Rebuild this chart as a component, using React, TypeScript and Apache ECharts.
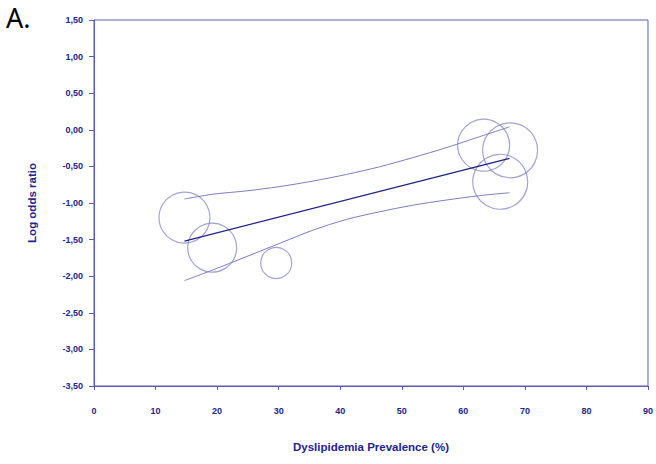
import React, { useEffect, useRef } from "react";
import * as echarts from "echarts";

// Studies: prevalence (%), log odds ratio, bubble weight (diameter)
const studyX = [14.7, 19.2, 29.6, 63.3, 67.6, 66.0];
const studyY = [-1.2, -1.61, -1.82, -0.21, -0.28, -0.71];
const studyWeight = [51, 49, 31, 52, 55, 55];

// Meta-regression line
const fitX = [14.7, 67.5];
const fitY = [-1.52, -0.39];

// Confidence band
const upperX = [14.7, 19.3, 24.7, 30.2, 35.6, 41.0, 46.4, 51.8, 57.2, 62.6, 67.5];
const upperY = [-0.945, -0.88, -0.835, -0.775, -0.7, -0.61, -0.505, -0.38, -0.245, -0.095, 0.04];
const lowerX = [14.7, 19.3, 24.7, 30.2, 35.6, 41.0, 46.4, 51.8, 57.2, 62.6, 67.5];
const lowerY = [-2.06, -1.915, -1.735, -1.55, -1.37, -1.225, -1.12, -1.03, -0.96, -0.9, -0.86];

const xTicks = { min: 0, max: 90, interval: 10 };
const yTicks = { min: -3.5, max: 1.5, interval: 0.5 };

const AXIS = "#5c5cb0";
const LABEL = "#23238a";

export default function App() {
  const ref = useRef<HTMLDivElement>(null);
  useEffect(() => {
    if (!ref.current) return;
    const chart = echarts.init(ref.current, null, { renderer: "svg" });
    const zip = (xs: number[], ys: number[]) => xs.map((x, i) => [x, ys[i]]);
    chart.setOption({
      animation: false,
      backgroundColor: "#ffffff",
      graphic: [
        {
          type: "text",
          left: 6,
          top: 3,
          style: {
            text: "A.",
            fontSize: 27,
            lineHeight: 28,
            fontFamily: "Noto Sans",
            fill: "#000000",
          },
        },
      ],
      grid: {
        left: 94,
        right: 7,
        top: 20,
        bottom: 78,
        show: true,
        borderColor: AXIS,
        borderWidth: 1,
      },
      xAxis: {
        type: "value",
        min: xTicks.min,
        max: xTicks.max,
        interval: xTicks.interval,
        name: "Dyslipidemia Prevalence (%)",
        nameLocation: "middle",
        nameGap: 55,
        nameTextStyle: {
          color: LABEL,
          fontSize: 11.5,
          fontWeight: "bold",
          fontFamily: "Liberation Sans",
          verticalAlign: "top",
        },
        axisLine: { show: true, onZero: false, lineStyle: { color: AXIS, width: 1 } },
        axisTick: { show: true, length: 4, lineStyle: { color: AXIS } },
        splitLine: { show: false },
        axisLabel: {
          color: LABEL,
          fontSize: 9,
          fontWeight: "bold",
          fontFamily: "Liberation Sans",
          margin: 20,
        },
      },
      yAxis: {
        type: "value",
        min: yTicks.min,
        max: yTicks.max,
        interval: yTicks.interval,
        name: "Log odds ratio",
        nameLocation: "middle",
        nameGap: 56,
        nameTextStyle: {
          color: LABEL,
          fontSize: 11.5,
          fontWeight: "bold",
          fontFamily: "Liberation Sans",
        },
        axisLine: { show: true, onZero: false, lineStyle: { color: AXIS, width: 1 } },
        axisTick: { show: true, length: 5, lineStyle: { color: AXIS } },
        splitLine: { show: false },
        axisLabel: {
          color: LABEL,
          fontSize: 9,
          fontWeight: "bold",
          fontFamily: "Liberation Sans",
          margin: 11,
          formatter: (v: number) => v.toFixed(2).replace(".", ","),
        },
      },
      series: [
        {
          type: "line",
          data: zip(upperX, upperY),
          smooth: 0.3,
          showSymbol: false,
          lineStyle: { color: "#7c7cc4", width: 1 },
        },
        {
          type: "line",
          data: zip(lowerX, lowerY),
          smooth: 0.3,
          showSymbol: false,
          lineStyle: { color: "#7c7cc4", width: 1 },
        },
        {
          type: "line",
          data: zip(fitX, fitY),
          showSymbol: false,
          lineStyle: { color: "#1e1e88", width: 1.2 },
        },
        {
          type: "scatter",
          data: studyX.map((x, i) => [x, studyY[i], studyWeight[i]]),
          symbol: "circle",
          symbolSize: (d: number[]) => d[2],
          itemStyle: {
            color: "rgba(0,0,0,0)",
            borderColor: "#8c8cc8",
            borderWidth: 1.2,
          },
        },
      ],
    });
    return () => chart.dispose();
  }, []);
  return (
    <div
      ref={ref}
      style={{ position: "absolute", left: 0, top: 0, width: 656, height: 464 }}
    />
  );
}
